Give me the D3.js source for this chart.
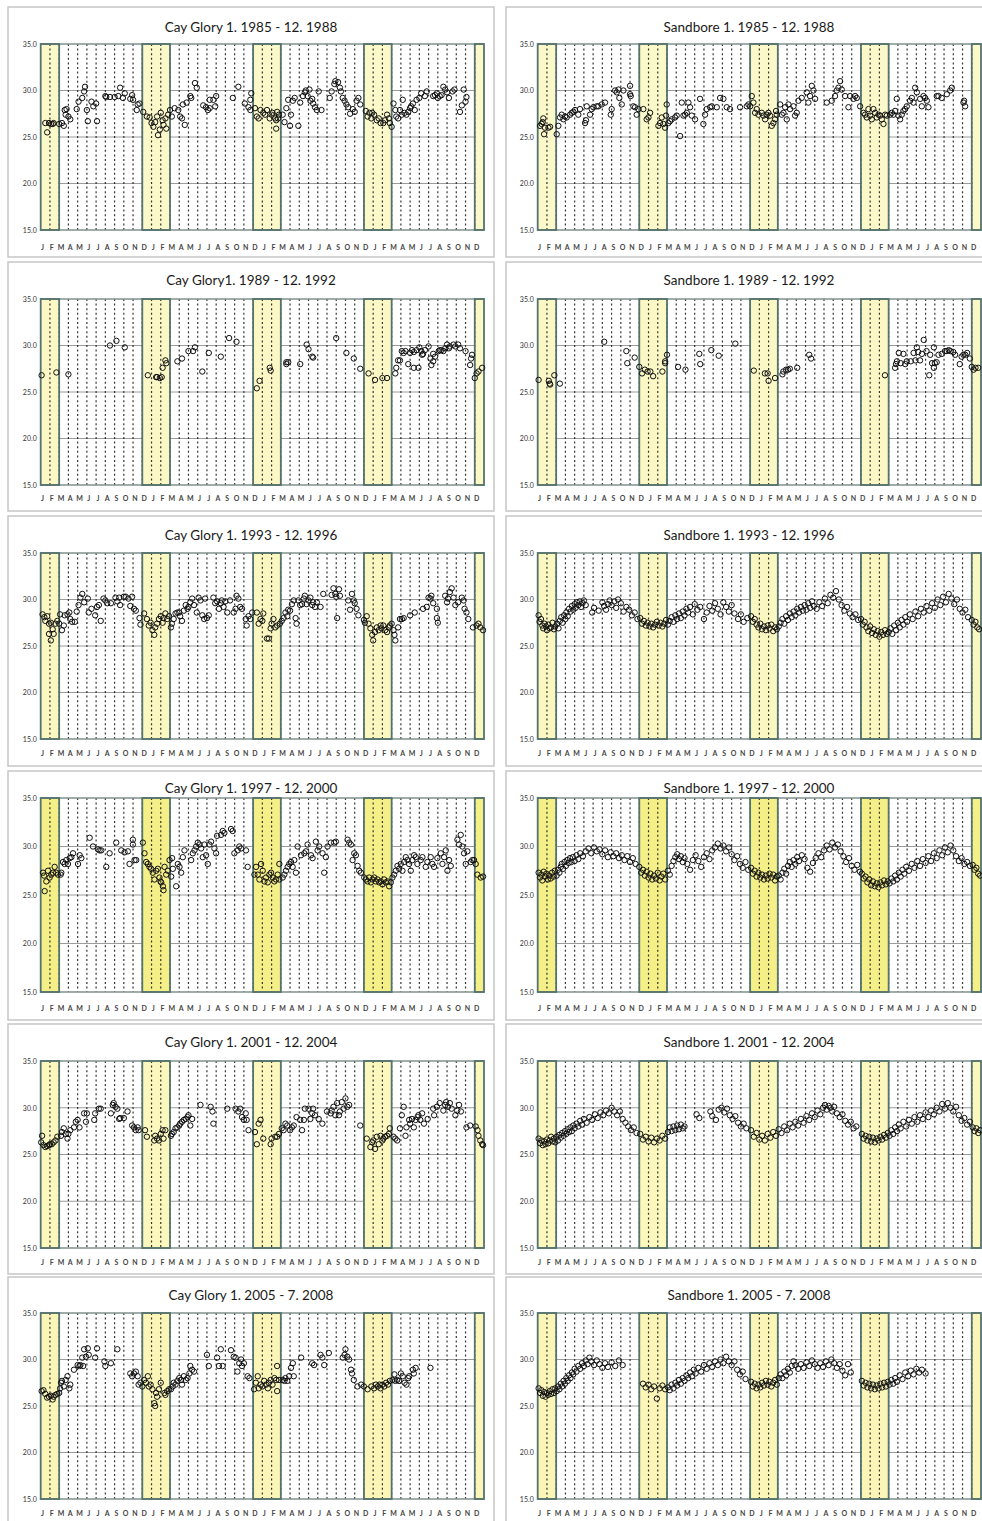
<!DOCTYPE html>
<html>
<head>
<meta charset="utf-8">
<script src="https://cdn.jsdelivr.net/npm/d3@7"></script>
<style>
  body { margin: 0; background: #fff; }
  svg { display: block; }
</style>
</head>
<body>
<div id="chart"></div>
<script>
// axis content
const monthLabels = ['J', 'F', 'M', 'A', 'M', 'J', 'J', 'A', 'S', 'O', 'N', 'D'];
const yTicks = [15, 20, 25, 30, 35];
const gridTemps = [20, 25, 30];
// summer (Dec-Feb) bands, in months from the start of each 4-year window
const summerBands = [[0, 2], [11, 14], [23, 26], [35, 38], [47, 48]];

const titles = [
    'Cay Glory 1. 1985 - 12. 1988', 'Sandbore 1. 1985 - 12. 1988',
    'Cay Glory1. 1989 - 12. 1992', 'Sandbore 1. 1989 - 12. 1992',
    'Cay Glory 1. 1993 - 12. 1996', 'Sandbore 1. 1993 - 12. 1996',
    'Cay Glory 1. 1997 - 12. 2000', 'Sandbore 1. 1997 - 12. 2000',
    'Cay Glory 1. 2001 - 12. 2004', 'Sandbore 1. 2001 - 12. 2004',
    'Cay Glory 1. 2005 - 7. 2008', 'Sandbore 1. 2005 - 7. 2008'
];

// [month since window start, temperature °C]
const cayGlory8588 = [
    [0.5,26.5],[0.7,25.5],[0.9,26.5],[1.1,26.4],[1.3,26.4],[1.4,26.5],
    [2.0,26.4],[2.3,26.5],[2.5,26.2],[2.6,27.9],[2.7,27.4],[2.8,28.0],[3.0,27.2],[3.2,26.9],
    [3.9,28.0],[4.1,28.8],[4.5,29.2],[4.7,29.9],[4.8,30.4],
    [5.0,27.9],[5.1,26.7],[5.5,28.8],[5.7,28.3],[6.0,28.6],[6.1,26.7],
    [7.0,29.4],[7.1,29.3],[7.5,29.3],[8.0,29.3],[8.4,29.4],[8.6,30.3],[8.9,29.2],[9.1,29.7],
    [9.7,29.1],[9.9,29.5],[10.0,29.0],[10.4,27.9],[10.5,28.5],[10.7,28.6],
    [11.1,27.7],[11.5,27.2],[11.8,27.1],[12.0,26.5],[12.2,26.1],[12.4,26.6],[12.6,27.2],[12.7,25.2],
    [12.9,25.8],[13.0,27.6],[13.2,26.8],[13.3,26.3],[13.5,27.0],[13.6,25.9],[13.8,27.4],[14.0,27.9],[14.2,27.2],
    [14.5,28.1],[14.9,27.9],[15.1,27.2],[15.3,27.0],[15.4,28.5],[15.6,26.3],[15.8,28.7],[16.2,29.4],
    [16.3,29.2],[16.7,30.8],[16.9,30.3],
    [17.6,28.4],[17.9,28.2],[18.1,27.9],[18.3,28.1],[18.3,29.0],[18.7,29.0],[18.9,28.3],[19.0,29.4],
    [20.8,29.2],[21.4,30.4],
    [22.1,28.6],[22.5,28.2],[22.7,29.0],[22.7,27.9],[22.8,29.7],
    [23.2,28.1],[23.4,27.2],[23.6,27.0],[23.8,27.9],[24.1,27.6],[24.3,27.4],[24.5,27.9],[24.8,27.0],
    [25.0,27.4],[25.1,27.6],[25.4,27.0],[25.5,26.8],[25.5,25.9],[25.6,27.7],[25.7,27.0],[25.8,27.4],
    [26.2,27.4],[26.4,26.6],[26.6,28.1],[26.8,29.0],[27.0,26.2],[27.1,27.4],[27.3,28.9],[27.5,29.2],
    [27.9,26.2],[28.1,28.7],
    [28.4,29.4],[28.6,29.8],[28.7,30.0],[28.9,29.4],[29.1,30.1],[29.2,28.9],[29.4,29.1],[29.5,28.6],
    [29.7,28.2],[29.9,27.9],[30.1,29.9],[30.4,27.9],
    [31.3,29.2],[31.5,29.9],[31.8,30.7],[31.9,31.0],[32.2,30.9],[32.4,30.3],[32.5,29.9],[32.7,29.2],
    [32.9,28.9],[33.1,28.5],[33.3,28.2],[33.5,27.5],[33.8,28.0],[34.0,27.7],[34.2,28.9],[34.4,29.2],[34.6,28.5],
    [35.2,27.8],[35.4,27.2],[35.6,27.6],[35.8,27.0],[35.9,27.6],[36.1,27.4],[36.4,26.8],[36.6,27.0],
    [36.8,26.5],[37.1,26.5],[37.3,26.8],[37.5,27.4],[37.7,27.0],[37.8,26.5],[38.0,26.1],
    [38.2,28.6],[38.4,27.9],[38.5,27.2],[38.7,27.0],[38.9,27.9],[39.1,27.4],[39.2,29.0],[39.4,27.6],
    [39.6,27.4],[39.8,27.7],[40.0,28.1],[40.1,28.3],[40.3,28.6],[40.5,27.9],[40.7,29.0],[41.0,29.2],
    [41.2,29.7],[41.6,29.4],[41.8,29.9],
    [42.5,29.4],[42.7,29.5],[42.9,29.7],[43.0,29.2],[43.2,29.4],[43.4,29.5],[43.6,30.4],[43.8,30.1],
    [44.0,29.8],[44.2,29.2],[44.6,29.9],[44.8,30.1],[45.4,27.7],[45.6,28.4],[45.8,30.1],[46.0,28.8],[46.1,29.3]
];

const sandbore8588 = [
    [0.25,26.2],[0.43,26.4],[0.54,26.6],[0.61,27.0],[0.69,25.3],[0.79,26.0],[1.16,26.0],[1.34,26.1],
    [2.06,25.3],[2.24,26.2],[2.42,27.1],[2.6,27.4],[2.78,26.9],[2.96,27.2],[3.14,27.1],[3.5,27.4],
    [3.68,27.6],[3.86,27.7],[4.04,27.9],[4.4,27.4],[4.58,28.0],
    [5.13,26.5],[5.23,26.8],[5.31,28.3],[5.67,27.4],[5.85,28.0],[6.03,28.2],[6.39,28.3],[6.57,28.3],
    [6.93,28.5],[7.29,28.7],
    [7.91,27.4],[8.01,28.0],[8.38,30.0],[8.56,29.8],[8.74,30.1],[8.84,29.2],[9.1,28.5],[9.28,30.0],
    [10.0,30.5],[10.0,29.6],[10.07,29.4],[10.36,28.3],[10.54,28.2],[10.72,27.4],[10.9,28.0],
    [11.44,28.0],[11.8,26.9],[11.99,27.1],[12.17,27.6],[13.07,26.2],[13.25,26.5],[13.43,27.1],
    [13.61,26.4],[13.79,26.0],[13.9,27.3],[13.97,28.5],[14.15,26.5],
    [14.33,26.7],[14.51,26.9],[14.87,27.1],[15.05,27.3],[15.42,25.1],[15.6,28.7],[15.78,27.3],[15.96,27.4],
    [16.14,27.6],[16.32,28.7],[16.5,28.2],[16.68,27.3],[17.04,26.9],[17.58,29.1],[17.94,26.4],[18.12,27.4],
    [18.3,28.0],[18.66,28.2],[18.84,28.3],[19.39,28.2],[19.75,29.2],[20.11,29.1],[20.47,28.2],[20.83,28.0],
    [21.91,28.2],[22.64,28.3],[22.82,28.5],[23.0,28.3],[23.18,29.4],[23.36,28.7],
    [23.54,27.6],[23.72,28.0],[23.9,27.4],[24.26,27.6],[24.44,27.3],[24.62,26.9],[24.8,27.4],[24.98,27.6],
    [25.16,27.3],[25.34,26.2],[25.52,26.5],[25.7,26.9],[25.81,27.8],[25.88,27.4],
    [26.25,28.5],[26.43,27.4],[26.61,27.6],[26.79,28.2],[26.97,26.9],[27.15,28.5],[27.33,28.0],[27.69,28.3],
    [27.87,27.3],[28.05,27.6],[28.23,28.9],[28.59,29.2],[29.13,29.8],[29.31,28.7],[29.49,29.4],[29.68,30.5],
    [29.86,30.0],[30.04,29.1],
    [31.3,28.7],[31.84,28.9],[32.2,29.4],[32.38,30.0],[32.56,30.3],[32.74,31.0],[32.92,30.1],[33.29,29.4],
    [33.65,28.2],[33.83,29.4],[34.19,29.1],[34.37,29.4],[34.55,29.2],[34.91,28.3],
    [35.27,27.6],[35.45,27.4],[35.63,27.1],[35.81,28.0],[35.99,27.3],[36.17,26.9],[36.35,28.0],[36.53,27.6],
    [36.71,27.1],[36.9,27.4],[37.08,27.3],[37.26,26.9],[37.44,26.4],[37.62,27.4],[37.8,27.3],
    [38.16,27.4],[38.34,27.6],[38.52,27.4],[38.7,27.8],[38.88,29.1],[39.06,27.3],[39.24,26.9],[39.42,27.4],
    [39.6,27.8],[39.78,28.0],[39.96,28.3],[40.32,28.9],[40.51,29.2],[40.69,28.7],[40.87,30.3],[41.05,29.8],
    [41.41,29.1],[41.59,28.3],[41.77,29.4],[41.95,29.2],[42.13,28.9],[42.31,28.2],
    [43.21,29.4],[43.39,29.4],[43.75,29.2],[44.3,29.6],[44.66,30.0],[44.84,30.3],
    [46.1,28.7],[46.17,28.9],[46.28,28.3]
];

const cayGlory8992 = [
    [0.1,26.8],[1.7,27.1],[3.0,26.9],[7.5,30.0],[8.2,30.5],[9.1,29.8],
    [11.6,26.8],[12.5,26.6],[12.6,26.6],[12.9,26.5],[13.1,26.6],[13.2,27.6],[13.5,28.4],[13.6,28.1],
    [14.8,28.3],[15.3,28.6],[16.0,29.4],[16.5,29.4],[16.7,29.8],[17.5,27.2],[18.2,29.2],[19.5,28.8],
    [20.4,30.8],[21.2,30.4],
    [23.4,25.4],[23.7,26.2],[24.8,27.6],[24.9,27.3],
    [26.6,28.0],[26.6,28.2],[26.8,28.2],[28.1,28.0],[28.8,30.1],[29.0,29.6],[29.4,28.8],[29.5,28.7],
    [32.0,30.8],[33.1,29.2],[33.9,28.6],[34.6,27.5],
    [35.5,27.0],[36.2,26.3],[37.0,26.5],[37.5,26.5],
    [38.4,27.0],[38.5,27.6],[38.7,28.4],[38.9,28.4],[39.1,29.4],[39.3,29.2],[39.5,29.4],[39.8,28.0],
    [40.0,29.2],[40.2,29.5],[40.4,27.6],[40.4,29.3],[40.7,29.5],[40.9,27.6],[41.0,29.8],[41.2,29.4],
    [41.3,29.0],[41.4,29.1],[41.6,29.5],[42.0,29.9],[42.2,28.6],[42.3,27.9],[42.5,28.3],[42.5,29.1],
    [42.7,28.8],[43.1,29.4],[43.2,29.5],[43.4,29.5],[43.6,29.4],[43.8,29.7],[44.0,30.1],[44.2,29.7],
    [44.3,29.9],[44.7,30.1],[44.9,29.9],[45.2,30.1],[45.4,29.7],[46.0,29.4],
    [46.5,27.9],[46.6,28.6],[46.7,29.0],[47.0,26.5],[47.2,27.0],[47.4,27.2],[47.8,27.6]
];

const sandbore8992 = [
    [0.1,26.3],[1.2,26.2],[1.3,25.9],[1.35,25.8],[1.8,26.8],[2.4,25.9],
    [7.2,30.4],[9.6,29.4],[9.7,28.1],[10.5,28.7],[11.0,27.7],[11.3,27.0],[11.6,27.4],[11.9,27.2],
    [12.2,27.2],[12.5,26.7],[13.5,27.2],[13.8,28.3],[13.8,28.1],[14.0,29.0],
    [15.2,27.7],[16.0,27.4],[17.5,29.1],[17.6,28.0],[18.8,29.5],[19.6,28.9],[21.4,30.2],
    [23.4,27.3],[24.6,27.0],[24.9,27.0],[25.0,26.2],[25.7,26.5],
    [26.5,26.9],[26.6,27.2],[26.9,27.4],[27.1,27.4],[27.3,27.5],[28.1,27.6],[29.4,29.0],[29.6,28.6],
    [37.6,26.8],
    [38.7,27.6],[38.8,28.0],[38.9,28.3],[39.1,29.2],[39.3,28.1],[39.6,29.1],[39.8,28.0],[39.96,28.3],
    [40.4,28.3],[40.7,29.2],[40.9,28.4],[41.05,29.8],[41.2,29.3],[41.4,28.4],[41.6,29.1],[41.8,30.6],
    [42.1,29.4],[42.4,26.8],[42.5,29.0],[42.7,28.1],[42.9,29.8],[42.9,27.6],[43.0,28.1],[43.2,28.2],
    [43.4,29.0],[43.75,29.1],[44.1,29.4],[44.3,29.4],[44.5,29.5],[44.7,29.4],[45.0,29.3],[45.2,29.0],
    [45.7,28.0],[45.9,28.8],[46.1,29.0],[46.3,29.0],[46.5,29.2],[46.8,28.6],[47.0,27.7],[47.2,27.4],
    [47.4,27.6],[47.7,27.6]
];

const cayGlory9396 = [
    [0.2,28.4],[0.4,28.1],[0.5,27.7],[0.7,28.2],[0.9,27.4],[0.9,26.3],[1.1,27.5],[1.1,25.6],[1.3,26.8],
    [1.4,26.3],[1.6,27.4],[1.8,27.7],[2.0,27.4],[2.1,28.4],
    [2.3,26.7],[2.5,27.2],[2.6,28.3],[2.9,28.4],[3.1,28.6],[3.2,27.9],[3.4,27.6],[3.7,27.6],[3.9,28.7],
    [4.1,29.4],[4.3,30.2],[4.5,30.6],[4.7,29.7],[5.1,30.1],[5.2,28.6],[5.5,29.0],[5.9,28.3],[6.1,29.2],
    [6.3,29.4],[6.5,27.7],[6.8,30.1],[7.0,29.9],[7.2,29.6],[7.6,29.6],[8.1,30.2],[8.3,29.8],[8.5,30.2],
    [8.6,29.4],[9.0,30.3],[9.2,30.3],[9.5,30.1],[9.7,29.3],[9.9,30.3],[10.1,29.0],[10.3,28.8],
    [10.7,28.0],[10.8,27.3],[11.2,28.5],[11.5,27.9],[11.7,27.2],[11.9,27.5],[12.1,26.7],[12.3,26.2],
    [12.4,27.0],[12.6,27.4],[12.8,27.9],[13.0,28.2],[13.2,27.5],[13.3,28.0],[13.5,28.5],[13.7,27.9],[13.9,28.2],
    [14.1,27.0],[14.2,27.4],[14.4,27.9],[14.6,28.5],[14.8,28.6],[15.0,28.6],[15.1,28.2],[15.3,27.7],
    [15.5,28.8],[15.7,29.4],[15.9,29.0],[16.0,29.2],[16.2,29.7],[16.4,30.1],[16.6,29.4],[16.9,28.6],
    [17.1,30.2],[17.3,29.9],[17.5,28.3],[17.7,27.9],[17.8,30.1],[18.0,28.0],[18.2,28.3],[18.7,30.2],
    [18.9,29.6],[19.1,29.8],[19.3,29.0],[19.5,29.6],[19.6,29.9],[19.8,29.2],[20.0,29.8],[20.2,28.6],
    [20.5,29.9],[20.9,28.6],[21.1,29.0],[21.2,30.4],[21.4,30.1],[21.6,29.2],[21.8,29.0],[22.2,27.9],
    [22.3,27.2],[22.5,28.2],[22.7,27.9],[22.9,28.6],
    [23.4,28.6],[23.6,27.4],[23.8,27.9],[24.0,27.7],[24.1,28.5],[24.5,25.8],[24.7,25.8],[24.9,26.9],
    [25.0,27.4],[25.2,27.9],[25.4,27.0],[25.6,27.2],
    [25.9,27.4],[26.1,27.7],[26.3,28.0],[26.5,28.6],[26.7,28.2],[26.8,28.9],[27.0,28.8],[27.2,29.5],
    [27.4,29.9],[27.6,28.0],[27.7,27.4],[27.9,29.9],[28.1,29.4],[28.3,29.5],[28.5,30.1],[28.6,30.4],
    [28.8,29.5],[29.0,29.9],[29.2,30.2],[29.4,29.4],[29.5,29.7],[29.7,29.2],[29.9,29.7],[30.3,29.2],
    [30.6,30.6],[31.5,30.5],[31.7,31.2],[31.9,30.6],[32.0,30.3],[32.1,28.0],[32.3,31.1],[32.4,30.4],
    [33.3,29.9],[33.5,28.9],[33.7,30.6],[33.9,29.9],[34.0,29.6],[34.2,29.0],[34.4,28.3],
    [35.0,27.8],[35.1,27.5],[35.3,28.2],[35.5,27.4],[35.7,26.9],[35.9,26.2],[36.0,25.6],[36.2,26.5],
    [36.4,27.0],[36.6,26.7],[36.8,27.2],[36.9,26.9],[37.1,27.2],[37.3,26.7],[37.5,26.5],[37.7,27.0],
    [37.8,27.2],[38.0,27.4],[38.2,26.7],[38.3,26.2],[38.4,25.6],
    [38.7,27.0],[38.9,27.9],[39.1,27.9],[39.3,28.0],[40.0,28.3],[40.5,28.6],[41.4,29.0],[41.8,29.2],
    [42.0,30.2],[42.2,30.1],[42.3,30.4],[42.5,29.6],[42.9,28.0],[43.0,27.5],[42.9,29.0],[43.8,30.4],
    [44.0,29.7],[44.1,30.1],[44.3,30.8],[44.5,31.2],[44.7,30.2],[44.9,29.4],[45.2,29.7],[45.6,30.2],
    [45.8,29.9],[45.9,29.0],[46.1,28.6],[46.3,27.9],
    [46.8,27.0],[47.2,27.2],[47.4,27.4],[47.6,27.0],[47.9,26.7]
];

const sandbore9396 = [
    [0.1,28.3],[0.2,27.6],[0.35,27.9],[0.5,27.2],[0.6,26.9],[0.75,27.4],[0.9,27.1],[1.0,26.7],[1.15,27.3],
    [1.3,26.9],[1.45,27.0],[1.6,27.5],[1.75,26.8],[1.9,27.1],
    [2.1,27.4],[2.25,26.9],[2.4,27.7],[2.55,28.1],[2.7,27.5],[2.85,28.3],[3.0,27.9],[3.1,28.6],[3.25,28.2],
    [3.4,29.0],[3.55,28.7],[3.7,29.3],[3.85,28.9],[4.0,29.5],[4.1,29.1],[4.25,29.7],[4.4,29.4],[4.55,29.8],
    [4.7,29.2],[4.85,29.6],[5.0,29.9],[5.2,29.4],
    [5.9,28.6],[6.1,29.1],[6.6,28.8],[7.0,29.7],[7.2,29.3],[7.4,28.9],[7.6,29.5],[7.8,29.9],[8.0,29.4],
    [8.3,29.8],[8.5,29.1],[8.7,30.0],[9.0,29.6],[9.3,28.7],[9.6,29.2],[9.9,28.9],[10.2,28.3],[10.5,28.6],[10.8,27.9],
    [11.1,28.0],[11.3,27.4],[11.5,27.7],[11.7,27.2],[11.9,27.5],[12.1,27.1],[12.3,27.4],[12.5,27.0],
    [12.7,27.3],[12.9,27.6],[13.1,27.2],[13.3,27.5],[13.5,27.1],[13.7,27.4],[13.9,27.8],
    [14.1,27.3],[14.3,27.7],[14.5,28.1],[14.7,27.6],[14.9,28.3],[15.1,27.9],[15.3,28.5],[15.5,28.0],
    [15.7,28.7],[15.9,28.3],[16.1,29.0],[16.3,28.6],[16.5,29.2],[16.8,28.4],[17.0,29.5],[17.3,28.9],
    [17.6,29.2],[18.0,27.9],[18.3,28.6],[18.6,29.3],[18.9,28.8],[19.2,29.6],[19.5,29.0],[19.8,28.4],
    [20.1,29.7],[20.4,29.2],[20.7,28.7],[21.0,29.4],[21.3,28.5],[21.7,27.9],[22.0,28.4],[22.3,27.6],[22.7,28.0],
    [23.1,28.2],[23.3,27.6],[23.5,27.9],[23.7,27.3],[23.9,27.0],[24.1,27.4],[24.3,26.8],[24.5,27.1],
    [24.7,26.7],[24.9,27.2],[25.1,26.9],[25.3,27.3],[25.5,26.6],[25.7,27.0],[25.9,26.8],
    [26.1,27.1],[26.3,27.5],[26.5,27.9],[26.7,27.4],[26.9,28.2],[27.1,27.8],[27.3,28.5],[27.5,28.1],
    [27.7,28.7],[27.9,28.3],[28.1,29.0],[28.3,28.6],[28.5,29.2],[28.7,28.8],[28.9,29.4],[29.1,28.9],
    [29.3,29.6],[29.5,29.1],[29.7,29.8],[29.9,29.3],[30.2,29.0],[30.5,29.7],[30.8,29.3],[31.1,30.1],
    [31.4,29.6],[31.7,30.5],[32.0,30.2],[32.3,30.9],[32.6,30.0],[32.9,29.4],[33.2,28.8],[33.5,29.2],
    [33.8,28.5],[34.1,28.1],[34.4,28.4],[34.7,27.8],
    [35.0,27.9],[35.2,27.3],[35.4,27.6],[35.6,27.0],[35.8,26.6],[36.0,27.1],[36.2,26.4],[36.4,26.8],
    [36.6,26.2],[36.8,26.6],[37.0,26.0],[37.2,26.5],[37.4,26.2],[37.6,26.7],[37.8,26.3],[38.0,26.5],
    [38.2,26.9],[38.4,26.3],[38.6,27.2],[38.8,26.7],[39.0,27.5],[39.2,27.0],[39.4,27.8],[39.6,27.3],
    [39.8,28.1],[40.0,27.6],[40.3,28.4],[40.6,27.9],[40.9,28.7],[41.2,28.2],[41.5,29.0],[41.8,28.6],
    [42.1,29.3],[42.4,28.8],[42.7,29.6],[43.0,29.1],[43.3,30.0],[43.6,29.4],[43.9,30.3],[44.2,29.7],
    [44.5,30.6],[44.8,30.1],[45.1,29.5],[45.4,30.0],[45.7,29.0],[46.0,28.6],[46.3,28.9],[46.6,28.1],
    [47.0,27.8],[47.2,27.3],[47.4,27.6],[47.6,27.0],[47.8,26.8]
];

const cayGlory9700 = [
    [0.25,27.3],[0.36,27.0],[0.43,25.4],[0.61,26.4],[0.79,27.5],[0.97,26.8],[1.15,27.1],[1.33,27.3],
    [1.51,27.9],[1.69,27.3],[1.87,27.1],
    [2.16,27.1],[2.23,27.3],[2.41,28.4],[2.59,28.2],[2.77,28.6],[2.95,28.2],[3.14,28.8],[3.32,28.9],
    [3.5,29.3],[4.04,28.2],[4.22,29.1],[4.4,28.8],[5.3,30.9],[5.66,30.0],[6.2,29.7],[6.38,29.6],
    [6.56,29.6],[7.1,27.9],[7.46,29.3],[8.18,30.4],[8.72,29.6],[9.08,29.4],[9.44,29.5],[9.62,28.2],
    [9.98,30.7],[9.98,30.2],[10.16,28.6],[10.34,28.6],
    [11.06,30.4],[11.24,29.3],[11.42,28.4],[11.6,28.2],[11.78,27.9],[11.96,27.7],[12.14,27.3],[12.32,26.6],
    [12.5,27.5],[12.68,27.7],[12.86,26.8],[12.97,26.4],[13.05,26.3],[13.23,25.9],[13.3,25.5],[13.41,27.9],
    [13.59,27.1],[13.77,27.5],[13.95,28.6],
    [14.13,26.9],[14.23,28.8],[14.31,27.7],[14.67,25.9],[14.85,28.2],[15.03,27.9],[15.21,27.3],[15.39,28.9],
    [15.57,29.6],[16.29,28.6],[16.47,29.3],[16.65,29.6],[16.83,30.0],[17.01,30.4],[17.19,30.2],[17.37,29.8],
    [17.55,28.9],[17.73,30.2],[17.91,29.1],[18.09,28.2],[18.27,30.2],[18.45,30.5],[18.81,29.8],[18.99,29.3],
    [19.1,31.1],[19.53,31.2],[19.71,31.6],[19.89,31.4],[20.61,31.8],[20.79,31.6],[20.97,29.3],[21.33,29.6],
    [21.51,30.0],[21.69,29.8],[22.23,29.6],[22.41,27.9],
    [23.14,27.1],[23.32,27.9],[23.5,27.1],[23.68,26.6],[23.86,28.2],[24.04,27.5],[24.22,26.4],[24.4,26.8],
    [24.58,26.3],[24.76,27.1],[24.94,27.3],[25.12,26.8],[25.3,26.4],[25.48,26.6],[25.66,27.1],[25.84,26.6],[25.84,28.2],
    [26.2,26.8],[26.38,27.1],[26.56,27.5],[26.74,27.9],[26.92,28.2],[27.1,28.4],[27.28,27.9],[27.46,28.6],
    [27.64,27.3],[27.82,30.0],[28.18,29.1],[28.54,29.3],[28.72,29.5],[28.9,30.2],[29.26,29.1],[29.44,28.8],
    [29.8,30.5],[29.98,29.6],[30.16,30.0],[30.52,29.3],[30.7,27.3],[30.88,28.9],[31.06,30.0],[31.42,30.4],
    [31.78,30.4],[31.96,30.5],[33.23,30.7],[33.41,30.4],[33.59,30.2],[33.77,28.6],[33.95,29.3],[34.13,29.1],
    [34.31,28.0],[34.49,27.5],[34.67,27.3],
    [35.03,26.8],[35.21,26.6],[35.39,26.4],[35.57,26.8],[35.75,26.3],[35.93,26.6],[36.11,26.8],[36.29,26.4],
    [36.47,26.6],[36.65,26.3],[36.83,26.4],[37.01,26.1],[37.19,26.6],[37.37,26.3],[37.55,26.4],[37.73,25.9],[37.91,26.3],
    [38.09,26.8],[38.27,27.1],[38.45,27.5],[38.63,28.0],[38.81,27.7],[38.99,28.2],[39.17,27.5],[39.35,28.4],
    [39.53,28.9],[39.71,28.6],[39.89,28.2],[40.07,27.5],[40.25,28.6],[40.43,29.1],[40.61,28.9],[40.79,28.2],
    [41.15,28.6],[41.33,28.9],[41.69,27.9],[41.87,28.4],[42.23,28.9],[42.41,28.2],[42.59,27.9],[42.95,28.8],
    [43.32,29.3],[43.5,28.2],[43.68,28.9],[43.86,29.6],[44.04,27.5],[44.22,28.6],[44.4,28.0],[45.12,30.7],
    [45.3,30.2],[45.48,31.2],[45.66,30.0],[45.84,29.3],[46.02,28.2],[46.2,29.5],[46.56,28.4],[46.74,28.6],[46.92,28.6],
    [47.1,28.2],[47.28,27.1],[47.64,26.8],[47.9,26.9]
];

const sandbore9700 = [
    [0.1,27.3],[0.25,26.8],[0.4,27.1],[0.5,26.5],[0.65,27.4],[0.8,26.9],[0.95,27.2],[1.1,26.6],[1.25,27.0],
    [1.4,26.7],[1.55,27.3],[1.7,26.9],[1.85,27.5],
    [2.05,27.0],[2.2,27.6],[2.35,27.3],[2.5,27.9],[2.6,28.2],[2.75,27.7],[2.9,28.4],[3.05,28.0],[3.2,28.6],
    [3.35,28.3],[3.5,28.8],[3.65,28.4],[3.8,28.9],[4.0,28.5],[4.2,29.1],[4.4,28.7],[4.6,29.3],[4.9,29.0],
    [5.2,29.5],[5.5,29.8],[5.8,29.3],[6.1,29.9],[6.4,29.5],[6.7,29.7],[7.0,29.2],[7.3,29.6],[7.6,28.9],
    [7.9,29.4],[8.2,29.0],[8.5,29.3],[8.8,28.8],[9.1,29.1],[9.4,28.6],[9.7,29.0],[10.0,28.4],[10.3,28.8],[10.6,28.2],
    [11.0,27.9],[11.2,27.3],[11.4,27.6],[11.6,27.0],[11.8,27.4],[12.0,26.8],[12.2,27.2],[12.4,26.6],
    [12.6,27.0],[12.8,26.7],[13.0,27.3],[13.2,26.5],[13.4,26.9],[13.6,27.2],[13.8,26.6],
    [14.1,27.5],[14.3,27.1],[14.5,28.0],[14.7,28.5],[14.9,28.9],[15.1,29.2],[15.3,28.7],[15.5,29.0],
    [15.7,28.4],[15.9,28.8],[16.2,28.2],[16.5,27.6],[16.8,28.6],[17.1,29.1],[17.4,28.5],[17.7,27.9],
    [18.0,28.9],[18.3,29.3],[18.6,28.7],[18.9,29.6],[19.2,29.9],[19.5,30.3],[19.8,29.8],[20.1,30.1],
    [20.4,29.5],[20.7,29.9],[21.0,29.2],[21.3,28.6],[21.6,29.0],[21.9,28.2],[22.2,27.8],[22.5,28.4],[22.8,27.6],
    [23.1,27.8],[23.3,27.2],[23.5,27.5],[23.7,26.9],[23.9,27.3],[24.1,26.8],[24.3,27.1],[24.5,26.6],
    [24.7,27.0],[24.9,26.7],[25.1,27.2],[25.3,26.8],[25.5,27.1],[25.7,26.5],[25.9,26.9],
    [26.1,27.0],[26.3,26.6],[26.5,27.3],[26.7,27.7],[26.9,27.2],[27.1,28.0],[27.3,28.4],[27.5,27.9],
    [27.7,28.6],[27.9,28.2],[28.1,28.9],[28.3,28.5],[28.6,29.1],[28.9,28.7],[29.2,27.8],[29.5,27.4],
    [29.8,28.3],[30.1,28.8],[30.4,29.3],[30.7,28.9],[31.0,29.6],[31.3,30.1],[31.6,29.7],[31.9,30.4],
    [32.2,29.9],[32.5,30.2],[32.8,29.5],[33.1,29.0],[33.4,28.4],[33.7,28.8],[34.0,28.0],[34.3,27.6],
    [34.6,28.1],[34.9,27.4],
    [35.1,27.2],[35.3,26.7],[35.5,26.9],[35.7,26.3],[35.9,26.6],[36.1,26.0],[36.3,26.4],[36.5,25.9],
    [36.7,26.2],[36.9,25.8],[37.1,26.3],[37.3,26.0],[37.5,26.5],[37.7,26.1],[37.9,26.4],
    [38.1,26.2],[38.3,26.7],[38.5,26.4],[38.7,27.0],[38.9,26.6],[39.1,27.3],[39.3,26.9],[39.5,27.6],
    [39.7,27.2],[39.9,27.9],[40.2,27.5],[40.5,28.2],[40.8,27.8],[41.1,28.5],[41.4,28.0],[41.7,28.7],
    [42.0,28.3],[42.3,29.0],[42.6,28.5],[42.9,29.3],[43.2,28.8],[43.5,29.6],[43.8,29.1],[44.1,29.9],
    [44.4,29.4],[44.7,30.1],[45.0,29.6],[45.3,29.0],[45.6,28.5],[45.9,28.8],[46.2,28.2],[46.5,28.4],[46.8,28.0],
    [47.1,28.1],[47.3,27.6],[47.5,27.8],[47.7,27.2],[47.9,27.0]
];

const cayGlory0104 = [
    [0.05,26.3],[0.15,27.0],[0.3,26.0],[0.5,25.8],[0.7,25.9],[0.9,26.0],[1.0,26.1],[1.2,26.1],
    [1.4,26.3],[1.6,26.5],[1.8,26.9],
    [2.2,27.0],[2.3,27.4],[2.5,27.8],[2.7,27.2],[2.9,26.7],[3.0,27.2],[3.2,27.6],[3.6,27.9],[3.8,28.5],
    [4.0,28.7],[4.2,27.9],[4.7,29.4],[4.9,28.5],[5.0,29.4],[5.8,28.7],[5.9,29.4],[6.3,29.9],[6.5,29.9],
    [7.6,29.4],[7.8,30.3],[7.9,30.5],[8.1,30.1],[8.3,29.9],[8.5,28.8],[8.6,28.9],[9.0,28.9],[9.4,29.6],
    [9.9,28.1],[10.1,27.9],[10.3,27.6],[10.5,27.9],[10.6,27.6],
    [11.3,27.6],[11.5,26.9],[12.3,26.5],[12.4,27.0],[12.6,26.7],[12.8,26.5],[13.0,27.2],[13.2,27.6],
    [13.3,26.7],[13.5,27.6],
    [14.1,27.0],[14.2,27.2],[14.4,27.4],[14.6,27.8],[14.8,27.9],[15.0,28.1],[15.1,28.3],[15.3,28.5],
    [15.5,28.7],[15.7,28.8],[15.9,29.0],[16.0,29.2],[16.2,28.1],[16.4,28.8],[17.3,30.3],[18.4,30.1],
    [18.6,29.6],[18.7,28.3],[20.2,29.9],[21.1,29.9],[21.4,29.6],[21.6,29.9],[21.8,29.0],[22.0,28.7],
    [22.2,29.4],[22.3,28.7],[22.5,27.6],
    [23.2,27.4],[23.4,26.1],[23.6,28.3],[23.8,28.7],[24.1,26.7],[24.9,26.1],[25.0,26.7],[25.4,26.9],
    [25.6,26.9],[25.8,27.2],
    [26.1,27.8],[26.3,27.6],[26.5,28.3],[26.7,28.1],[27.0,27.6],[27.2,27.9],[27.4,28.1],[27.7,29.0],
    [28.1,28.7],[28.3,27.6],[28.5,28.7],[28.6,29.9],[29.0,29.9],[29.2,28.8],[29.4,29.4],[29.5,29.9],
    [29.7,29.2],[30.1,28.8],[30.5,28.3],[31.0,29.6],[31.4,29.4],[31.5,29.7],[31.7,30.1],[31.9,29.2],
    [32.1,30.5],[32.3,29.2],[32.4,29.6],[32.6,30.6],[32.8,29.9],[33.0,31.0],[33.2,30.1],[33.4,30.3],
    [34.6,28.1],
    [35.3,26.7],[35.7,25.8],[35.9,26.3],[36.0,26.5],[36.2,25.6],[36.4,26.9],[36.6,26.1],[36.8,27.0],
    [37.0,26.5],[37.1,26.7],[37.3,26.9],[37.5,27.0],[37.7,27.2],[37.8,27.8],
    [38.2,26.9],[38.4,26.7],[38.6,26.5],[38.9,27.8],[39.1,29.2],[39.3,30.1],[39.5,27.0],[39.6,27.9],
    [39.9,28.7],[40.0,28.3],[40.2,28.8],[40.4,27.9],[40.6,28.7],[40.8,29.0],[40.9,29.2],[41.1,28.7],
    [41.3,29.4],[41.5,28.3],[41.9,28.8],[42.5,29.9],[42.6,29.2],[42.9,30.1],[43.2,30.5],[43.6,29.7],
    [43.8,30.3],[43.9,30.6],[44.1,30.1],[44.3,30.5],[44.5,29.9],[44.9,29.2],[45.1,29.7],[45.3,30.3],
    [45.5,29.6],[46.1,27.9],[46.5,28.1],
    [47.1,28.0],[47.3,27.6],[47.4,27.0],[47.6,26.5],[47.8,26.1],[47.9,26.0]
];

const sandbore0104 = [
    [0.1,26.7],[0.25,26.2],[0.4,26.5],[0.55,26.0],[0.7,26.4],[0.85,26.1],[1.0,26.6],[1.15,26.2],[1.3,26.5],
    [1.45,26.9],[1.6,26.4],[1.75,26.7],[1.9,26.3],
    [2.05,26.9],[2.2,26.5],[2.35,27.1],[2.5,26.8],[2.65,27.3],[2.8,27.0],[2.95,27.5],[3.1,27.2],[3.25,27.7],
    [3.4,27.4],[3.55,27.9],[3.7,27.5],[3.85,28.1],[4.0,27.8],[4.2,28.3],[4.4,28.0],[4.6,28.6],[4.8,28.2],
    [5.0,28.8],[5.3,28.4],[5.6,29.0],[5.9,28.7],[6.2,29.3],[6.5,28.9],[6.8,29.5],[7.1,29.2],[7.4,29.7],
    [7.7,29.4],[8.0,30.0],[8.3,29.6],[8.6,29.2],[8.9,29.6],[9.2,28.8],[9.5,28.4],[9.8,28.0],[10.1,27.6],
    [10.4,27.9],[10.7,27.3],
    [11.1,27.2],[11.4,26.6],[11.7,26.9],[12.0,26.4],[12.3,26.8],[12.6,26.3],[12.9,26.7],[13.2,26.5],
    [13.5,27.0],[13.8,26.7],
    [14.1,27.4],[14.3,27.9],[14.5,27.5],[14.7,28.0],[14.9,27.6],[15.1,28.1],[15.3,27.7],[15.5,28.2],
    [15.7,27.8],[15.9,28.0],
    [17.2,29.3],[17.5,28.9],[18.7,29.6],[18.9,29.1],[19.3,28.7],[19.6,29.8],[19.9,30.0],[20.2,29.5],
    [20.5,29.9],[20.8,29.2],[21.1,28.8],[21.4,29.1],[21.7,28.4],[22.0,28.0],[22.3,28.3],[22.6,27.8],
    [23.1,27.6],[23.4,26.9],[23.7,27.3],[24.0,26.6],[24.3,27.0],[24.6,26.5],[24.9,27.2],[25.2,26.8],
    [25.5,27.4],[25.8,27.0],
    [26.1,27.7],[26.4,27.3],[26.7,28.0],[27.0,27.6],[27.3,28.3],[27.6,27.9],[27.9,28.5],[28.2,28.1],
    [28.5,28.8],[28.8,28.4],[29.1,29.1],[29.4,28.7],[29.7,29.4],[30.0,29.0],[30.3,29.7],[30.6,29.3],
    [30.9,30.0],[31.1,30.3],[31.3,29.8],[31.5,30.2],[31.7,30.0],[31.9,29.6],[32.1,30.1],[32.4,29.4],
    [32.7,29.0],[33.0,29.3],[33.3,28.6],[33.6,28.2],[33.9,28.5],[34.2,27.8],[34.5,28.0],
    [35.1,27.2],[35.3,26.7],[35.5,27.0],[35.7,26.5],[35.9,26.9],[36.1,26.4],[36.3,26.8],[36.5,26.3],
    [36.7,26.7],[36.9,26.5],[37.1,26.9],[37.3,26.6],[37.5,27.1],[37.7,26.8],[37.9,27.3],
    [38.1,27.0],[38.3,27.6],[38.5,27.2],[38.7,27.9],[38.9,27.5],[39.1,28.2],[39.3,27.8],[39.6,28.5],
    [39.9,28.0],[40.2,28.7],[40.5,28.3],[40.8,29.0],[41.1,28.5],[41.4,29.2],[41.7,28.8],[42.0,29.5],
    [42.3,29.0],[42.6,29.7],[42.9,29.3],[43.2,30.0],[43.5,29.6],[43.8,30.4],[44.1,29.9],[44.4,30.5],
    [44.7,30.0],[45.0,29.6],[45.3,30.1],[45.6,29.2],[45.9,28.6],[46.2,28.9],[46.5,28.2],[46.8,28.5],
    [47.1,27.9],[47.3,27.5],[47.5,27.8],[47.7,27.3],[47.9,27.6]
];

const cayGlory0508 = [
    [0.1,26.6],[0.3,26.7],[0.5,26.3],[0.7,25.9],[0.9,26.0],[1.1,26.1],[1.3,25.7],[1.4,26.0],[1.6,26.2],[1.8,26.3],
    [2.0,26.4],[2.1,26.9],[2.2,27.5],[2.3,27.7],[2.5,27.1],[2.7,27.8],[2.9,28.2],[3.1,26.9],[3.2,27.3],
    [3.6,28.9],[4.0,29.4],[4.2,29.3],[4.3,29.4],[4.5,30.2],[4.6,29.3],[4.7,31.1],[4.9,30.3],[5.1,31.2],
    [5.2,30.5],[5.9,30.2],[6.1,31.2],[6.9,29.8],[7.0,29.3],[7.6,29.6],[8.3,31.1],
    [9.7,28.5],[9.9,28.2],[10.1,28.5],[10.3,28.7],[10.5,28.2],[10.6,27.3],[10.8,27.5],
    [11.0,27.1],[11.2,27.8],[11.4,27.5],[11.6,28.2],[11.7,27.1],[11.9,27.3],[12.1,26.8],[12.3,25.3],
    [12.4,25.0],[12.5,26.4],[12.6,26.0],[12.8,26.8],[13.0,27.5],[13.4,26.4],[13.5,26.2],[13.7,26.6],[13.9,26.8],
    [14.1,26.8],[14.3,27.1],[14.4,27.5],[14.6,27.3],[14.8,27.7],[15.0,28.0],[15.2,27.8],[15.3,27.3],
    [15.5,28.2],[15.7,27.8],[15.9,28.0],[16.1,28.5],[16.2,29.3],[16.4,28.9],[16.6,28.7],[18.0,30.5],
    [18.2,29.3],[19.1,30.2],[19.3,29.3],[19.5,31.1],[19.7,29.3],[20.6,31.0],[20.9,30.3],[21.1,30.2],
    [21.3,28.7],[21.5,29.6],[21.7,30.0],[21.8,29.3],[22.0,29.6],[22.4,28.2],[22.6,28.0],
    [23.1,26.8],[23.3,27.5],[23.5,28.2],[23.6,26.9],[23.8,27.3],[24.0,27.1],[24.2,27.7],[24.4,27.3],
    [24.6,26.9],[24.7,27.5],[24.9,27.8],[25.1,27.3],[25.3,28.0],[25.5,27.8],[25.6,29.3],[25.6,26.6],[25.8,27.8],
    [26.2,27.8],[26.4,27.7],[26.5,28.0],[26.7,27.7],[26.9,28.2],[27.1,29.1],[27.3,29.6],[27.4,28.2],
    [28.2,30.2],[29.4,29.6],[29.6,29.4],[30.3,30.5],[30.5,30.2],[30.7,29.4],[31.2,30.7],[32.7,30.2],
    [32.9,30.5],[33.0,31.1],[33.2,30.3],[33.4,30.0],[33.6,28.9],[33.7,28.5],[33.9,27.8],[34.3,27.1],
    [34.7,27.3],[35.0,27.1],
    [35.4,26.8],[35.8,27.1],[36.1,26.9],[36.3,27.3],[36.5,27.1],[36.7,27.3],[36.8,26.9],[37.0,27.3],
    [37.2,27.1],[37.4,27.5],[37.6,27.3],[37.8,27.7],
    [38.1,27.8],[38.3,28.4],[38.4,27.7],[38.6,27.8],[38.8,27.7],[39.0,28.5],[39.2,28.2],[39.4,27.5],
    [39.6,27.3],[39.8,28.0],[39.9,28.2],[40.3,28.9],[40.4,28.5],[40.6,29.1],[42.2,29.1]
];

const sandbore0508 = [
    [0.1,26.9],[0.25,26.4],[0.4,26.7],[0.55,26.1],[0.7,26.5],[0.85,26.0],[1.0,26.4],[1.15,26.2],[1.3,26.6],
    [1.45,26.3],[1.6,26.8],[1.75,26.4],[1.9,26.9],
    [2.05,26.6],[2.2,27.1],[2.35,26.8],[2.5,27.4],[2.65,27.1],[2.8,27.7],[2.95,27.4],[3.1,28.0],[3.25,27.7],
    [3.4,28.3],[3.55,28.0],[3.7,28.6],[3.85,28.4],[4.0,29.0],[4.2,28.7],[4.4,29.3],[4.6,29.0],[4.8,29.6],
    [5.0,29.3],[5.2,29.9],[5.4,29.5],[5.6,30.2],[5.8,29.8],[6.1,29.4],[6.4,29.9],[6.7,29.5],[7.0,29.1],
    [7.3,29.6],[7.6,29.2],[8.0,29.7],[8.4,29.3],[8.8,29.9],[9.2,29.4],
    [11.4,27.4],[11.7,27.0],[12.0,27.3],[12.3,26.8],[12.6,27.1],[12.9,25.8],[13.2,26.9],[13.5,27.2],[13.8,26.8],
    [14.1,27.0],[14.3,26.7],[14.5,27.3],[14.7,26.9],[14.9,27.5],[15.1,27.2],[15.3,27.8],[15.5,27.4],
    [15.7,28.0],[15.9,27.7],[16.1,28.3],[16.3,28.0],[16.5,28.6],[16.7,28.2],[16.9,28.9],[17.1,28.5],
    [17.4,29.1],[17.7,28.7],[18.0,29.4],[18.3,29.0],[18.6,29.6],[18.9,29.2],[19.2,29.8],[19.5,29.4],
    [19.8,30.0],[20.1,29.6],[20.4,30.3],[20.7,29.8],[21.0,29.4],[21.3,29.8],[21.6,28.9],[21.9,28.4],
    [22.2,28.7],[22.5,27.9],
    [23.1,27.6],[23.3,27.1],[23.5,27.4],[23.7,26.9],[23.9,27.3],[24.1,27.0],[24.3,27.5],[24.5,27.2],
    [24.7,27.7],[24.9,27.3],[25.1,27.6],[25.3,27.1],[25.5,27.5],[25.7,27.8],[25.9,27.3],
    [26.1,28.0],[26.3,28.4],[26.5,28.0],[26.7,28.7],[26.9,28.3],[27.1,29.0],[27.3,28.6],[27.5,29.3],
    [27.7,29.8],[27.9,29.4],[28.2,29.0],[28.5,29.5],[28.8,29.1],[29.1,29.7],[29.4,29.3],[29.7,29.9],
    [30.0,29.5],[30.3,29.1],[30.6,29.6],[30.9,29.2],[31.2,29.8],[31.5,29.4],[31.8,30.0],[32.1,29.6],
    [32.4,29.1],[32.7,29.5],[33.0,28.8],[33.3,28.3],[33.6,29.5],[33.9,28.6],
    [35.1,27.7],[35.3,27.2],[35.5,27.5],[35.7,27.0],[35.9,27.4],[36.1,26.9],[36.3,27.3],[36.5,26.8],
    [36.7,27.2],[36.9,26.9],[37.1,27.4],[37.3,27.0],[37.5,27.5],[37.7,27.1],[37.9,27.6],
    [38.1,27.3],[38.3,27.8],[38.5,27.4],[38.7,28.0],[38.9,27.6],[39.2,28.3],[39.5,27.9],[39.8,28.6],
    [40.1,28.2],[40.4,28.8],[40.7,28.4],[41.0,29.0],[41.3,28.6],[41.6,28.9],[42.0,28.5]
];

const panelData = [
    cayGlory8588, sandbore8588, cayGlory8992, sandbore8992, cayGlory9396, sandbore9396,
    cayGlory9700, sandbore9700, cayGlory0104, sandbore0104, cayGlory0508, sandbore0508
];

// page layout (pixels)
const rowLayout = [
    { frameTop: 7, frameBottom: 257, titleY: 27, plotTop: 44, plotBottom: 230, labelY: 247, band: '#fbf8c9' },
    { frameTop: 262, frameBottom: 511, titleY: 280, plotTop: 299, plotBottom: 485, labelY: 498, band: '#fbf8c6' },
    { frameTop: 516, frameBottom: 766, titleY: 535, plotTop: 553, plotBottom: 739, labelY: 753, band: '#fbf7c0' },
    { frameTop: 771, frameBottom: 1020, titleY: 788, plotTop: 798, plotBottom: 992, labelY: 1008, band: '#f5ef88' },
    { frameTop: 1024, frameBottom: 1274, titleY: 1042, plotTop: 1061, plotBottom: 1248, labelY: 1262, band: '#fbf7bd' },
    { frameTop: 1277, frameBottom: 1535, titleY: 1295, plotTop: 1313, plotBottom: 1499, labelY: 1513, band: '#fbf6b8' }
];
const colLayout = [
    { frameLeft: 8, frameRight: 494, plotLeft: 40.7, plotRight: 484 },
    { frameLeft: 506, frameRight: 992, plotLeft: 537.7, plotRight: 981 }
];

const svg = d3.select('#chart').append('svg')
    .attr('width', 982)
    .attr('height', 1521)
    .style('font-family', 'Lato, "Open Sans", sans-serif');

svg.append('rect').attr('width', 982).attr('height', 1521).attr('fill', '#fff');

panelData.forEach((data, i) => {
    const r = rowLayout[Math.floor(i / 2)];
    const c = colLayout[i % 2];
    const g = svg.append('g');

    const x = d3.scaleLinear().domain([0, 48]).range([c.plotLeft, c.plotRight]);
    const y = d3.scaleLinear().domain([15, 35]).range([r.plotBottom, r.plotTop]);

    // panel frame
    g.append('rect')
        .attr('x', c.frameLeft).attr('y', r.frameTop)
        .attr('width', c.frameRight - c.frameLeft).attr('height', r.frameBottom - r.frameTop)
        .attr('fill', '#fff').attr('stroke', '#c6c6c6').attr('stroke-width', 1.5);

    g.append('text')
        .attr('x', (c.frameLeft + c.frameRight) / 2).attr('y', r.titleY + 5)
        .attr('text-anchor', 'middle')
        .attr('font-size', 13.5).attr('fill', '#1a1a1a')
        .text(titles[i]);

    // horizontal gridlines
    g.selectAll('.hgrid').data(gridTemps).join('line')
        .attr('x1', x(0)).attr('x2', x(48))
        .attr('y1', d => y(d)).attr('y2', d => y(d))
        .attr('stroke', '#9c9c9c').attr('stroke-width', 1);

    // summer band fill
    g.selectAll('.bandfill').data(summerBands).join('rect')
        .attr('x', d => x(d[0])).attr('width', d => x(d[1]) - x(d[0]))
        .attr('y', y(35)).attr('height', y(15) - y(35))
        .attr('fill', r.band);

    // monthly dashed verticals
    g.selectAll('.vgrid').data(d3.range(1, 48)).join('line')
        .attr('x1', d => x(d)).attr('x2', d => x(d))
        .attr('y1', y(35)).attr('y2', y(15))
        .attr('stroke', '#1e1e1e').attr('stroke-opacity', 0.9)
        .attr('stroke-width', 1.2).attr('stroke-dasharray', '2,2.6');

    // plot top/bottom rules
    g.selectAll('.rule').data([15, 35]).join('line')
        .attr('x1', x(0)).attr('x2', x(48))
        .attr('y1', d => y(d)).attr('y2', d => y(d))
        .attr('stroke', '#7f918d').attr('stroke-width', 1.6);

    // band outlines
    g.selectAll('.bandline').data(summerBands).join('rect')
        .attr('x', d => x(d[0])).attr('width', d => x(d[1]) - x(d[0]))
        .attr('y', y(35)).attr('height', y(15) - y(35))
        .attr('fill', 'none').attr('stroke', '#55736d').attr('stroke-width', 1.8);

    // y axis labels
    const yAxis = g.append('g')
        .attr('transform', `translate(${x(0)},0)`)
        .call(d3.axisLeft(y).tickValues(yTicks).tickSize(0).tickPadding(4).tickFormat(d3.format('.1f')));
    yAxis.select('.domain').remove();
    yAxis.selectAll('text').attr('font-size', 7).attr('fill', '#333').attr('font-family', 'Lato, sans-serif');

    // month letters
    g.selectAll('.mlabel').data(d3.range(48)).join('text')
        .attr('x', d => x(d + 0.2)).attr('y', r.labelY + 2.5)
        .attr('text-anchor', 'middle')
        .attr('font-size', 7).attr('font-weight', 'bold').attr('fill', '#444')
        .text(d => monthLabels[d % 12]);

    // observations
    g.selectAll('.obs').data(data).join('circle')
        .attr('cx', d => x(d[0])).attr('cy', d => y(d[1]))
        .attr('r', 2.7)
        .attr('fill', 'none').attr('stroke', '#111').attr('stroke-width', 1);
});
</script>
</body>
</html>
